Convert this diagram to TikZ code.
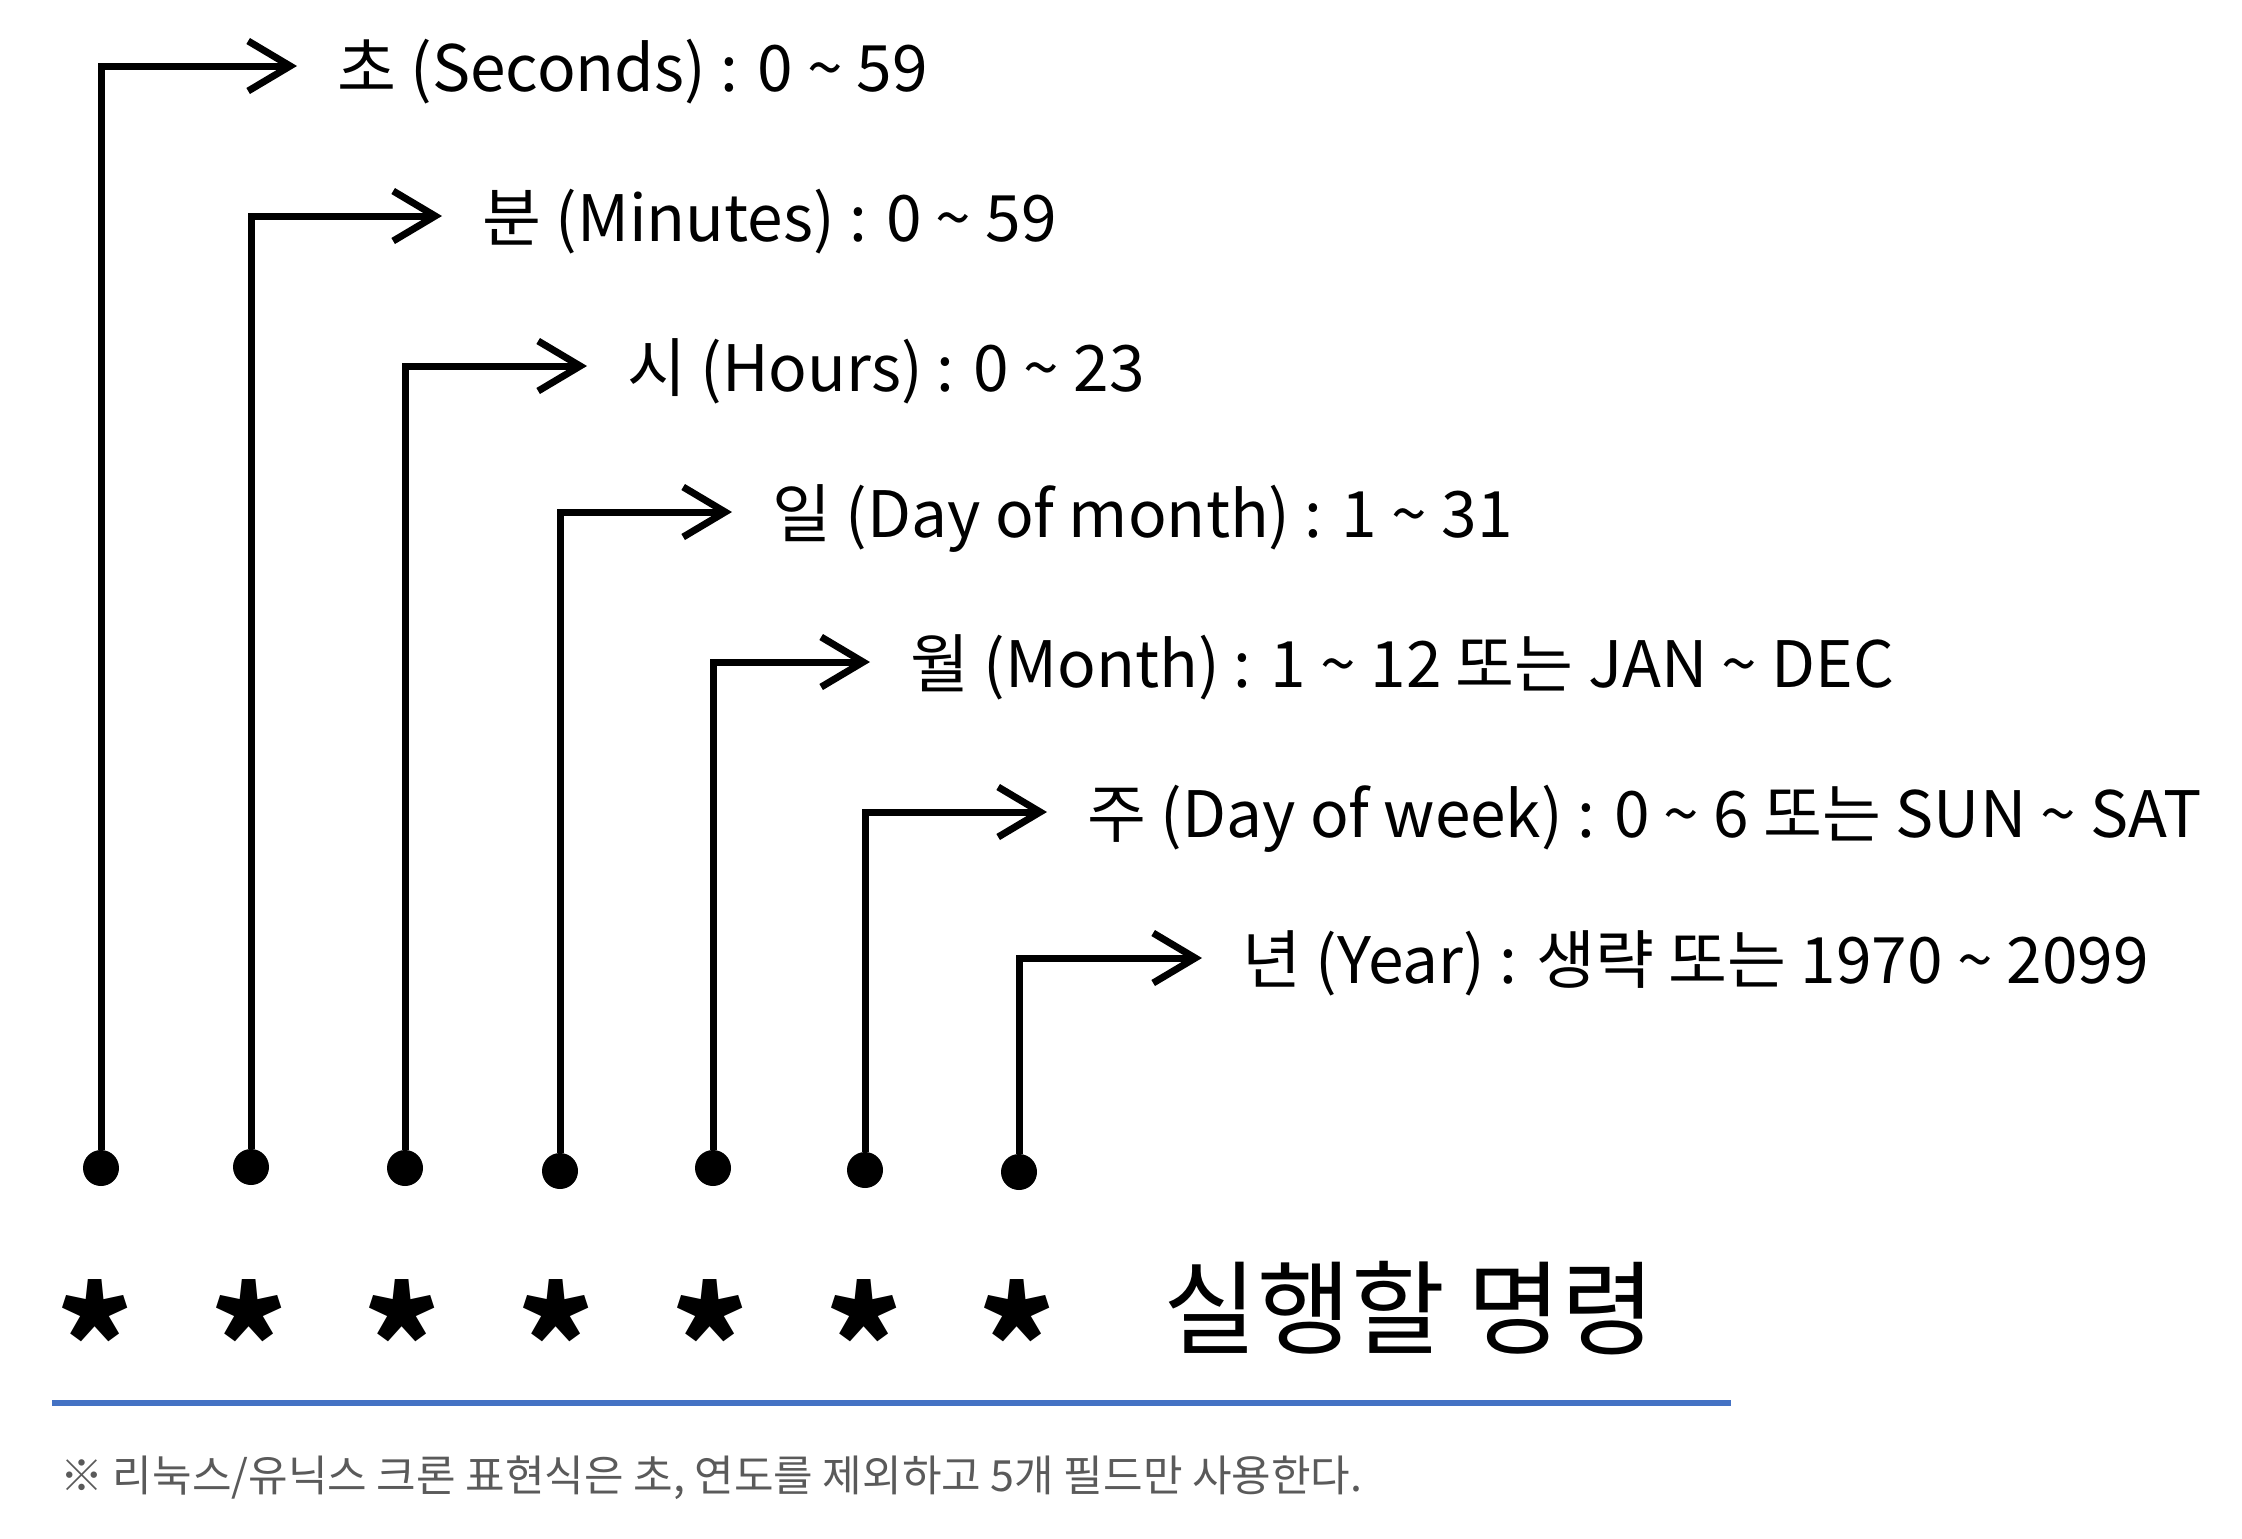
\documentclass[tikz,border=0pt]{standalone}
\usepackage{fontspec}
\setmainfont{Noto Sans CJK KR}
\usetikzlibrary{arrows.meta}
\definecolor{ruleblue}{RGB}{68,114,196}
\definecolor{notegray}{RGB}{90,90,90}
\tikzset{
  field/.style={anchor=west, inner sep=0pt, font=\fontsize{32pt}{38pt}\selectfont, text height=25pt, text depth=0pt},
  dotnode/.style={circle, fill=black, inner sep=0pt, minimum size=18pt},
  starnode/.style={inner sep=0pt, anchor=base, font=\bfseries\fontsize{73pt}{80pt}\selectfont},
  link/.style={line width=3.5pt, -{Straight Barb[length=21pt,width=25pt,line width=3.5pt]}},
}
\begin{document}
\begin{tikzpicture}[x=0.5pt,y=-0.5pt]
\useasboundingbox[fill=white] (0,0) rectangle (2242,1538);

% field texts
\node[field] (t1) at (337,66)  {초 (Seconds) : 0 \char"007E{} 59};
\node[field] (t2) at (482,216) {분 (Minutes) : 0 \char"007E{} 59};
\node[field] (t3) at (627,366) {시 (Hours) : 0 \char"007E{} 23};
\node[field] (t4) at (772,512) {일 (Day of month) : 1 \char"007E{} 31};
\node[field] (t5) at (910,662) {월 (Month) : 1 \char"007E{} 12 또는 JAN \char"007E{} DEC};
\node[field] (t6) at (1087,812) {주 (Day of week) : 0 \char"007E{} 6 또는 SUN \char"007E{} SAT};
\node[field] (t7) at (1242,958) {년 (Year) : 생략 또는 1970 \char"007E{} 2099};

% dots
\node[dotnode] (d1) at (101,1168) {};
\node[dotnode] (d2) at (251,1167) {};
\node[dotnode] (d3) at (405,1168) {};
\node[dotnode] (d4) at (560,1171) {};
\node[dotnode] (d5) at (713,1168) {};
\node[dotnode] (d6) at (865,1170) {};
\node[dotnode] (d7) at (1019,1172) {};

% connectors
\draw[link] (d1) |- ([xshift=-20pt]t1.west);
\draw[link] (d2) |- ([xshift=-20pt]t2.west);
\draw[link] (d3) |- ([xshift=-20pt]t3.west);
\draw[link] (d4) |- ([xshift=-20pt]t4.west);
\draw[link] (d5) |- ([xshift=-20pt]t5.west);
\draw[link] (d6) |- ([xshift=-20pt]t6.west);
\draw[link] (d7) |- ([xshift=-20pt]t7.west);

% asterisks
\node[starnode] (a1) at (95,1398)  {*};
\node[starnode] (a2) at (249,1398) {*};
\node[starnode] (a3) at (402,1398) {*};
\node[starnode] (a4) at (556,1398) {*};
\node[starnode] (a5) at (710,1398) {*};
\node[starnode] (a6) at (864,1398) {*};
\node[starnode] (a7) at (1017,1398) {*};

% command
\node[anchor=west, inner sep=0pt, font=\fontsize{51pt}{56pt}\selectfont] (cmd) at (1163,1308) {실행할 명령};

% rule
\coordinate (r1) at (52,1403);
\coordinate (r2) at (1731,1403);
\draw[ruleblue, line width=3pt] (r1) -- (r2);

% note
\node[anchor=west, inner sep=0pt, text=notegray, font=\fontsize{21.5pt}{26pt}\selectfont] (note) at (60,1478) {※ 리눅스/유닉스 크론 표현식은 초, 연도를 제외하고 5개 필드만 사용한다.};
\end{tikzpicture}
\end{document}
